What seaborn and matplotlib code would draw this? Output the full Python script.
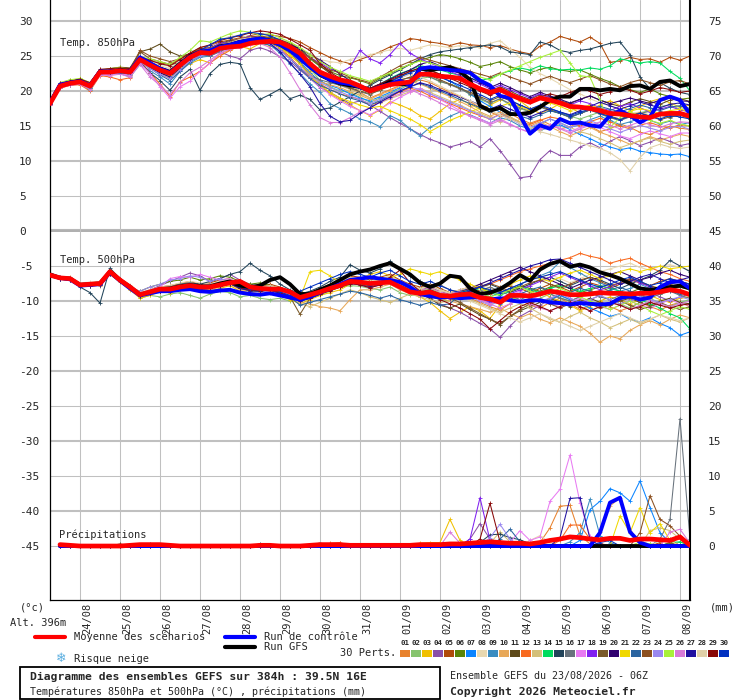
import numpy as np
import matplotlib
matplotlib.use("Agg")
import matplotlib.pyplot as plt
from matplotlib.lines import Line2D
from matplotlib.patches import Rectangle
import matplotlib.transforms as mtransforms
import seaborn as sns

# ---------------- DATA (6-hourly from 23/08 06Z) ----------------
dates = ["24/08", "25/08", "26/08", "27/08", "28/08", "29/08", "30/08", "31/08",
         "01/09", "02/09", "03/09", "04/09", "05/09", "06/09", "07/09", "08/09"]

mean850 = [18.2, 20.7, 21.1, 21.3, 20.7, 22.7, 22.7, 22.9, 22.7, 24.5, 23.7, 23.0, 22.5, 23.7, 24.8, 25.5,
           25.4, 26.1, 26.3, 26.4, 26.8, 27.0, 27.1, 27.0, 26.3, 25.4, 23.9, 22.7, 22.1, 21.6, 21.3, 20.7,
           20.0, 20.5, 20.9, 21.1, 21.3, 22.4, 22.4, 22.1, 22.0, 21.8, 21.0, 20.3, 19.8, 20.2, 19.5, 18.9,
           18.4, 19.0, 18.7, 18.3, 17.8, 17.7, 17.5, 17.2, 16.8, 16.7, 16.5, 16.3, 16.2, 16.7, 16.8, 16.8, 16.4]
ctrl850 = [18.3, 20.9, 21.2, 21.4, 20.8, 22.8, 22.8, 22.9, 22.8,
           24.8, 24.0, 23.2, 22.6, 23.8, 24.9, 25.6, 25.8, 26.3, 26.6, 27.0, 27.3, 27.5, 27.2, 26.6, 25.8,
           24.6, 23.4, 22.4, 21.6, 21.2, 21.0, 20.6, 20.0, 20.6, 21.0, 21.5, 20.8, 23.2, 23.4, 23.2, 23.0,
           22.9, 22.6, 21.5, 20.8, 19.3, 19.0, 16.5, 13.9, 15.1, 14.6, 16.0, 15.4, 15.5, 15.1, 14.9, 16.5,
           17.2, 16.5, 15.5, 16.3, 18.7, 19.2, 18.7, 16.7]
gfs850 = [18.3, 20.8, 21.2, 21.4, 20.7, 22.8, 22.7, 23.0, 22.8,
          24.6, 23.9, 23.2, 22.7, 23.9, 25.0, 25.6, 25.7, 26.4, 26.6, 27.0, 27.2, 27.4, 27.2, 26.6, 25.9,
          24.8, 23.5, 22.3, 21.6, 21.1, 20.8, 20.6, 20.0, 20.6, 21.3, 21.0, 20.9, 23.2, 23.0, 23.2, 23.4,
          22.8, 21.6, 17.9, 17.2, 17.6, 16.7, 16.7, 16.9, 17.7, 18.7, 19.2, 19.2, 20.3, 20.3, 20.1, 20.3,
          20.1, 20.7, 20.8, 20.3, 21.3, 21.5, 20.7, 21.0]

mean500 = [-6.3, -6.7, -6.8, -7.7, -7.6, -7.5, -5.8, -7.0, -8.0, -9.1, -8.7, -8.3, -8.3, -8.0, -7.8, -8.0,
           -8.0, -7.7, -7.4, -7.2, -8.0, -8.2, -8.3, -8.3, -8.7, -9.5, -9.1, -8.7, -8.2, -7.8, -7.2, -7.3,
           -7.5, -7.4, -7.3, -8.0, -8.7, -8.9, -8.7, -9.2, -9.3, -9.1, -9.0, -9.5, -9.7, -10.2, -9.2, -9.2,
           -9.3, -9.0, -8.6, -8.8, -9.1, -9.1, -9.0, -8.8, -8.9, -8.9, -9.0, -8.9, -8.9, -8.7, -8.4, -8.6, -9.1]
ctrl500 = [-6.3, -6.7, -6.9, -7.8, -7.7, -7.6, -5.9, -7.1, -8.2,
           -9.2, -8.9, -8.6, -8.6, -8.4, -8.3, -8.6, -8.7, -8.5, -8.4, -8.8, -9.0, -9.1, -8.9, -9.2, -9.5,
           -9.8, -9.4, -8.8, -8.2, -7.6, -7.0, -6.8, -6.6, -6.8, -7.0, -7.3, -8.0, -9.0, -9.3, -9.5, -9.4,
           -9.6, -9.5, -9.4, -9.8, -9.6, -9.9, -10.1, -9.9, -9.9, -10.2, -10.3, -10.5, -10.3, -10.4, -10.5,
           -10.4, -9.6, -9.3, -9.8, -9.5, -8.0, -7.3, -7.2, -8.2]
gfs500 = [-6.2, -6.7, -6.8, -7.7, -7.6, -7.5, -5.8, -7.0, -8.0,
          -9.1, -8.7, -8.3, -8.2, -7.9, -7.7, -7.9, -7.9, -7.5, -7.2, -7.8, -8.0, -7.8, -7.0, -6.6, -7.6,
          -9.0, -9.0, -8.4, -7.8, -7.0, -6.2, -5.8, -5.5, -5.0, -4.6, -5.4, -6.2, -7.4, -8.0, -7.5, -6.4,
          -6.6, -8.2, -9.0, -8.8, -8.3, -7.4, -6.3, -7.1, -5.5, -4.7, -4.3, -5.1, -4.8, -5.2, -5.9, -6.3,
          -6.8, -7.5, -8.2, -8.4, -8.2, -8.0, -7.8, -8.2]

# precipitation (mm / 6h), from 23/08 12Z
mean_rr = [0.2, 0.1, 0, 0, 0, 0, 0, 0.1, 0.2, 0.2, 0.2, 0.1, 0, 0, 0, 0,
           0, 0, 0, 0, 0.1, 0.1, 0, 0, 0, 0.1, 0.2, 0.2, 0.2, 0.1, 0.1, 0.1,
           0.1, 0.1, 0.1, 0.1, 0.2, 0.2, 0.2, 0.3, 0.3, 0.4, 0.5, 0.6, 0.5, 0.4, 0.4, 0.3,
           0.5, 0.8, 1.0, 1.3, 1.2, 1.0, 0.9, 1.1, 1.1, 0.8, 1.0, 1.0, 0.9, 0.8, 1.3, 0.1]
ctrl_rr = [0, 0, 0, 0, 0, 0, 0, 0, 0, 0, 0, 0, 0, 0, 0, 0,
           0, 0, 0, 0, 0, 0, 0, 0, 0, 0, 0, 0, 0, 0, 0, 0,
           0, 0, 0, 0, 0, 0, 0, 0, 0, 0, 0, 0, 0, 0, 0, 0,
           0, 0, 0, 0, 0, 0, 1.9, 6.2, 6.9, 2.0, 0.5, 0, 0, 0, 0, 0]
gfs_rr = [0, 0, 0, 0, 0, 0, 0, 0, 0, 0, 0, 0, 0, 0, 0, 0,
          0, 0, 0, 0, 0, 0, 0, 0, 0, 0, 0.2, 0, 0, 0, 0, 0,
          0, 0, 0, 0, 0, 0, 0, 0, 0, 0, 0, 0, 0, 0, 0, 0,
          0, 0, 0, 0, 0, 0, 0, 0, 0, 0, 0, 0, 0, 0, 0, 0]

# ---- 850 hPa perturbations ----
t850_01 = [18.0, 20.5, 21.4, 21.0, 20.3, 22.4, 22.9, 22.6, 22.1, 24.0, 23.2, 22.4, 21.8, 23.0, 24.3, 25.0, 25.2, 25.8, 26.4, 26.9, 27.3, 27.4, 27.6, 27.2, 26.8, 25.9, 24.1, 22.3, 21.5, 21.0, 20.4, 19.8, 19.0, 19.6, 20.2, 20.8, 21.0, 21.6, 21.2, 20.5, 19.8, 19.2, 18.5, 17.6, 17.0, 16.4, 16.8, 16.0, 15.4, 15.9, 15.2, 14.6, 14.9, 15.5, 15.0, 14.2, 14.6, 15.3, 14.8, 14.1, 13.8, 14.4, 15.0, 14.7, 14.5]
t850_02 = [18.4, 21.0, 21.6, 21.5, 20.4, 22.9, 23.0, 22.8, 22.9, 24.9, 24.0, 23.4, 22.9, 24.0, 25.1, 25.9, 25.6, 26.5, 26.6, 26.9, 27.3, 27.0, 27.2, 27.1, 26.2, 25.0, 23.2, 21.5, 20.6, 20.0, 19.8, 19.1, 18.4, 19.0, 19.6, 20.3, 20.9, 21.8, 22.0, 21.3, 21.0, 20.4, 19.5, 18.8, 18.2, 18.9, 18.0, 17.5, 17.0, 17.8, 17.3, 16.8, 16.4, 16.0, 16.5, 17.0, 16.2, 15.8, 16.4, 16.9, 17.2, 17.8, 18.0, 17.4, 17.5]
t850_03 = [18.3, 20.8, 21.2, 21.0, 20.9, 22.5, 22.4, 23.2, 22.6, 24.6, 23.5, 22.6, 21.9, 23.2, 23.9, 24.5, 24.0, 25.3, 25.9, 26.4, 26.0, 26.8, 26.5, 25.8, 25.0, 24.0, 22.8, 21.0, 19.6, 18.8, 18.0, 17.2, 16.5, 17.3, 18.5, 18.0, 17.4, 16.5, 16.0, 17.1, 18.2, 18.8, 18.1, 17.4, 18.0, 18.7, 19.3, 18.6, 17.5, 16.8, 17.4, 18.2, 17.6, 16.9, 17.3, 18.0, 18.6, 17.9, 17.2, 17.8, 18.5, 18.9, 18.3, 17.7, 18.0]
t850_04 = [18.1, 20.6, 20.9, 21.2, 20.6, 22.6, 22.8, 22.7, 22.4, 24.3, 23.6, 22.8, 22.2, 23.4, 24.5, 25.3, 25.0, 25.6, 25.0, 24.6, 25.8, 26.2, 25.7, 24.9, 24.2, 23.0, 21.8, 20.5, 19.8, 19.0, 18.2, 18.6, 18.0, 17.1, 16.2, 15.4, 14.6, 13.8, 13.1, 12.6, 12.0, 12.4, 12.8, 12.0, 13.2, 11.5, 9.6, 7.6, 7.8, 10.2, 11.5, 10.8, 10.8, 12.0, 12.6, 11.9, 12.8, 13.5, 12.9, 12.2, 12.7, 13.3, 12.8, 12.2, 12.5]
t850_05 = [18.5, 21.0, 21.5, 21.7, 21.1, 23.0, 23.1, 23.2, 23.0, 24.8, 24.3, 24.0, 23.8, 24.6, 25.4, 26.2, 26.5, 27.0, 27.3, 27.6, 27.9, 28.2, 28.0, 27.8, 27.5, 27.0, 26.2, 25.5, 24.8, 24.3, 23.9, 24.5, 25.0, 25.6, 26.3, 26.8, 27.5, 27.3, 27.0, 26.8, 26.5, 26.9, 26.6, 26.5, 26.2, 26.5, 26.0, 25.6, 25.3, 26.4, 27.0, 27.8, 27.4, 27.0, 27.7, 26.8, 24.1, 24.3, 24.8, 24.5, 24.6, 24.1, 24.8, 24.4, 25.0]
t850_06 = [18.2, 20.9, 21.3, 21.4, 20.8, 22.8, 22.6, 23.0, 22.8, 24.4, 23.8, 23.2, 22.7, 23.9, 25.0, 25.6, 25.8, 26.3, 26.6, 27.0, 27.4, 27.5, 27.3, 27.0, 26.6, 25.9, 24.6, 23.5, 22.8, 22.2, 21.9, 21.5, 21.0, 21.8, 22.5, 23.2, 23.8, 24.4, 24.8, 25.2, 25.0, 24.6, 24.1, 23.5, 23.8, 24.2, 23.5, 23.0, 22.6, 23.1, 23.4, 23.0, 22.8, 23.0, 22.4, 21.8, 21.3, 20.6, 20.2, 19.8, 20.3, 19.6, 19.2, 18.8, 19.0]
t850_07 = [18.0, 20.6, 21.0, 21.1, 20.5, 22.5, 22.5, 22.8, 22.5, 24.3, 23.4, 22.7, 22.1, 23.5, 24.6, 25.3, 25.5, 26.2, 26.5, 27.0, 27.2, 27.3, 27.1, 26.5, 25.8, 24.2, 22.6, 21.4, 20.8, 20.3, 19.6, 19.0, 18.6, 19.2, 19.8, 20.5, 21.2, 21.9, 22.5, 22.0, 21.4, 20.5, 19.6, 18.6, 17.8, 17.0, 16.2, 15.5, 15.0, 14.4, 14.8, 15.2, 14.5, 13.8, 13.2, 12.5, 12.0, 11.6, 11.9, 11.4, 11.2, 11.0, 10.9, 11.0, 10.6]
t850_08 = [18.6, 21.2, 21.5, 21.8, 21.2, 23.1, 23.0, 23.3, 23.2, 24.8, 24.5, 23.8, 23.5, 24.4, 25.3, 26.0, 26.4, 27.3, 27.8, 28.0, 27.6, 27.8, 27.9, 27.4, 26.9, 26.2, 25.3, 24.5, 24.2, 24.0, 24.5, 24.8, 25.2, 25.5, 25.9, 26.1, 25.8, 26.2, 26.6, 26.4, 26.2, 26.5, 26.3, 26.2, 26.8, 27.2, 26.0, 24.8, 23.4, 22.5, 21.8, 21.0, 20.2, 19.6, 18.9, 18.3, 17.9, 17.2, 16.8, 17.0, 16.6, 16.2, 16.5, 16.3, 16.0]
t850_09 = [18.1, 20.5, 20.9, 21.0, 20.2, 22.3, 22.4, 22.5, 22.0, 23.8, 22.9, 22.0, 21.0, 22.8, 24.0, 24.8, 25.0, 25.9, 26.2, 26.5, 26.9, 27.0, 26.6, 25.4, 23.9, 22.5, 21.0, 19.8, 18.2, 17.5, 16.8, 16.0, 15.6, 14.9, 16.5, 15.8, 14.6, 13.6, 14.8, 15.6, 16.4, 17.0, 16.6, 16.0, 15.4, 16.2, 15.8, 15.0, 14.6, 15.3, 16.0, 15.5, 14.8, 15.2, 15.9, 16.4, 15.8, 15.2, 15.6, 16.1, 15.8, 15.3, 15.7, 15.2, 15.5]
t850_10 = [18.2, 20.7, 21.4, 21.3, 20.6, 22.6, 22.8, 23.0, 22.7, 24.6, 23.9, 23.3, 22.6, 23.8, 24.9, 25.7, 25.9, 26.6, 26.9, 27.2, 27.6, 27.8, 27.4, 26.7, 25.6, 24.0, 22.4, 21.3, 20.9, 20.5, 19.9, 19.4, 18.8, 19.5, 20.0, 20.7, 21.4, 21.0, 20.4, 19.8, 19.2, 18.5, 17.8, 17.0, 16.4, 17.0, 16.3, 15.6, 15.0, 15.6, 14.9, 14.2, 13.6, 14.2, 14.8, 14.1, 13.6, 13.0, 12.4, 12.9, 13.5, 13.0, 13.4, 13.8, 13.5]
t850_11 = [18.4, 20.8, 21.3, 21.6, 21.0, 22.9, 23.2, 23.4, 23.3, 25.6, 26.0, 26.7, 25.6, 25.0, 25.3, 25.8, 26.0, 26.8, 27.2, 27.4, 27.8, 27.6, 27.7, 27.3, 26.8, 26.0, 24.8, 23.6, 22.5, 21.4, 20.8, 20.2, 19.8, 20.6, 21.4, 22.1, 22.8, 23.3, 23.0, 22.4, 22.0, 21.6, 21.0, 20.4, 20.0, 20.6, 20.0, 19.3, 18.8, 19.5, 19.1, 18.6, 18.2, 18.8, 19.3, 18.7, 18.2, 17.8, 18.4, 18.9, 18.5, 18.1, 18.7, 18.9, 18.5]
t850_12 = [18.0, 20.4, 20.8, 20.9, 20.0, 22.2, 22.0, 21.6, 21.9, 24.2, 22.6, 21.0, 19.2, 21.3, 22.0, 22.8, 24.0, 25.0, 25.8, 26.5, 27.0, 27.4, 27.0, 26.2, 24.8, 23.4, 22.0, 21.0, 20.2, 19.6, 19.2, 18.8, 18.0, 18.4, 19.1, 19.9, 20.4, 20.0, 19.3, 18.8, 18.2, 17.6, 17.0, 16.5, 16.0, 16.7, 16.1, 15.6, 15.2, 15.8, 16.3, 16.0, 15.4, 15.0, 15.6, 16.1, 15.6, 15.0, 14.6, 15.1, 15.5, 15.0, 14.7, 15.2, 15.0]
t850_13 = [18.3, 20.9, 21.6, 21.4, 20.8, 22.7, 22.6, 22.9, 22.8, 24.2, 23.6, 23.0, 22.6, 23.8, 24.8, 25.4, 25.2, 26.0, 26.2, 26.6, 26.9, 27.2, 27.0, 26.4, 25.7, 24.8, 23.6, 22.3, 21.4, 20.8, 20.2, 19.6, 19.0, 18.3, 18.9, 19.4, 19.9, 20.4, 19.8, 19.2, 18.6, 18.0, 17.3, 16.8, 16.2, 15.6, 16.2, 15.6, 15.0, 14.4, 14.9, 15.4, 14.8, 14.2, 13.8, 13.2, 12.6, 11.9, 12.4, 12.9, 13.3, 12.8, 12.4, 12.8, 13.0]
t850_14 = [18.2, 20.6, 21.0, 21.2, 20.1, 22.8, 22.5, 22.7, 22.6, 24.7, 23.8, 23.1, 22.7, 23.6, 24.6, 25.4, 25.8, 26.4, 26.7, 27.1, 27.5, 27.4, 27.6, 26.8, 26.0, 25.0, 23.8, 22.6, 21.9, 21.4, 21.1, 20.6, 20.3, 21.0, 21.8, 22.5, 23.0, 23.6, 23.4, 23.0, 22.6, 22.2, 21.8, 21.5, 21.8, 22.4, 22.9, 23.3, 23.0, 23.6, 23.2, 23.0, 23.1, 23.0, 23.3, 23.1, 23.6, 24.6, 24.3, 24.0, 24.2, 24.0, 22.8, 21.8, 20.0]
t850_15 = [18.1, 20.8, 21.0, 21.2, 20.6, 22.6, 22.6, 22.7, 22.3, 24.1, 22.6, 21.5, 20.1, 22.0, 23.1, 20.1, 22.5, 23.8, 24.1, 23.9, 20.5, 18.8, 19.5, 20.3, 18.9, 19.4, 18.8, 17.3, 17.6, 18.4, 19.2, 20.0, 20.8, 21.6, 22.3, 23.0, 23.8, 24.6, 25.2, 25.6, 25.8, 26.0, 26.2, 26.4, 26.6, 26.3, 25.6, 25.4, 25.2, 27.0, 26.6, 25.8, 25.5, 25.8, 26.0, 26.4, 26.8, 27.0, 25.2, 22.0, 20.3, 21.2, 20.4, 19.8, 19.5]
t850_16 = [18.3, 20.7, 21.2, 21.3, 20.9, 22.7, 22.8, 22.8, 22.6, 24.4, 23.4, 22.8, 22.2, 23.3, 24.5, 25.2, 25.0, 25.7, 26.1, 26.6, 26.8, 27.0, 26.9, 26.2, 25.4, 24.0, 22.2, 21.6, 21.2, 20.8, 20.4, 19.9, 19.5, 20.2, 20.9, 21.6, 21.9, 22.3, 22.0, 21.4, 20.9, 20.3, 19.6, 19.0, 18.3, 18.9, 18.2, 17.6, 17.1, 17.7, 17.2, 16.8, 16.2, 16.8, 17.3, 16.7, 16.2, 15.8, 16.3, 16.8, 17.1, 16.6, 16.2, 16.7, 16.5]
t850_17 = [18.0, 20.6, 21.1, 21.0, 20.3, 22.3, 22.4, 22.5, 22.2, 24.0, 22.5, 20.6, 19.0, 20.6, 21.4, 22.8, 24.0, 25.4, 26.0, 26.4, 26.8, 27.2, 26.9, 26.0, 24.6, 23.2, 21.8, 20.6, 19.5, 18.6, 17.8, 17.2, 16.6, 17.4, 18.3, 19.1, 19.8, 20.4, 19.6, 18.8, 18.0, 17.2, 16.5, 16.0, 15.4, 16.0, 15.3, 14.6, 14.0, 14.6, 15.2, 14.7, 14.2, 14.8, 15.3, 14.8, 14.2, 13.6, 13.2, 13.8, 14.3, 13.9, 13.5, 14.0, 14.0]
t850_18 = [18.4, 21.0, 21.3, 21.6, 20.9, 22.9, 22.9, 23.1, 22.9, 24.6, 24.0, 23.4, 23.0, 24.2, 25.2, 26.0, 26.2, 26.8, 27.0, 27.4, 27.8, 27.6, 27.2, 26.8, 26.3, 25.6, 24.8, 24.0, 23.2, 22.6, 23.4, 25.8, 24.6, 24.0, 25.2, 26.8, 25.4, 24.6, 24.0, 23.4, 22.8, 22.2, 21.6, 21.0, 20.3, 20.8, 20.2, 19.6, 19.0, 19.6, 19.0, 18.5, 18.0, 18.6, 18.2, 17.6, 17.2, 17.8, 18.2, 17.6, 17.0, 17.4, 17.8, 17.3, 17.0]
t850_19 = [18.2, 20.8, 21.1, 21.3, 20.8, 22.6, 22.8, 22.9, 22.8, 25.6, 24.6, 24.2, 23.8, 24.0, 25.0, 25.9, 25.6, 26.4, 26.7, 27.2, 27.4, 27.1, 26.9, 26.2, 25.6, 24.6, 23.5, 22.4, 21.6, 21.0, 20.5, 20.0, 19.6, 20.1, 20.8, 21.5, 22.0, 22.6, 22.2, 21.6, 21.0, 20.4, 19.8, 19.2, 18.6, 19.2, 18.6, 18.0, 17.4, 17.9, 17.3, 16.8, 16.3, 16.8, 17.3, 16.9, 16.4, 16.0, 16.5, 16.9, 16.4, 15.9, 16.3, 16.6, 16.0]
t850_20 = [18.2, 20.7, 21.0, 21.4, 20.7, 22.7, 22.6, 22.8, 22.7, 24.2, 23.4, 22.6, 22.0, 23.3, 24.8, 25.5, 25.8, 26.2, 26.8, 27.3, 27.6, 27.3, 27.5, 27.0, 26.6, 26.0, 25.2, 24.4, 23.5, 22.4, 21.5, 20.8, 20.4, 21.0, 21.7, 22.4, 23.0, 23.8, 24.2, 23.6, 23.0, 22.5, 21.9, 21.2, 20.5, 21.1, 20.5, 19.8, 19.2, 19.8, 19.3, 18.8, 18.3, 18.8, 19.3, 18.7, 18.2, 18.6, 19.0, 18.6, 18.2, 18.7, 19.0, 18.6, 18.5]
t850_21 = [18.3, 20.9, 21.3, 21.2, 20.6, 22.8, 22.7, 22.9, 22.5, 24.5, 23.5, 22.8, 22.3, 23.4, 24.7, 25.2, 25.6, 26.2, 26.5, 26.9, 27.2, 27.3, 27.0, 26.2, 25.2, 23.8, 22.2, 20.8, 19.8, 19.0, 18.5, 18.0, 17.6, 17.8, 17.2, 16.6, 16.0, 15.2, 14.2, 15.0, 15.8, 16.4, 17.0, 17.6, 17.2, 17.8, 18.3, 17.8, 17.2, 17.8, 18.3, 17.8, 17.2, 17.6, 18.0, 17.5, 17.0, 16.6, 17.1, 17.5, 17.2, 16.8, 17.2, 17.4, 17.0]
t850_22 = [18.1, 20.6, 21.0, 21.1, 20.5, 22.5, 22.6, 22.6, 22.5, 24.3, 23.3, 22.3, 21.5, 22.8, 24.2, 25.0, 25.2, 26.0, 26.4, 26.8, 27.0, 26.8, 26.6, 25.8, 24.6, 23.2, 21.8, 20.8, 20.2, 19.6, 19.0, 18.6, 18.0, 18.6, 19.4, 20.0, 20.6, 21.1, 20.6, 20.0, 19.4, 18.8, 18.2, 17.6, 17.0, 17.6, 17.0, 16.4, 16.0, 16.6, 17.2, 16.8, 16.3, 16.8, 17.3, 17.8, 17.4, 17.0, 17.5, 18.0, 17.6, 17.2, 17.7, 17.9, 17.5]
t850_23 = [18.4, 20.9, 21.3, 21.5, 21.0, 22.9, 23.0, 23.0, 23.0, 25.8, 25.0, 24.6, 24.2, 24.6, 25.4, 26.0, 26.2, 26.6, 27.0, 27.4, 27.7, 27.9, 27.6, 27.0, 26.4, 25.6, 24.8, 23.8, 23.0, 22.6, 22.0, 21.6, 21.2, 22.0, 22.8, 23.6, 24.2, 24.8, 24.4, 24.0, 23.6, 23.2, 22.8, 22.4, 22.0, 22.6, 22.0, 21.5, 21.0, 21.6, 22.1, 21.6, 21.2, 21.7, 22.2, 21.6, 21.0, 20.6, 21.2, 21.6, 21.2, 20.8, 21.3, 21.5, 21.0]
t850_24 = [18.2, 20.6, 21.0, 21.2, 20.6, 22.6, 22.6, 22.8, 22.5, 24.2, 23.2, 22.4, 21.8, 23.0, 24.3, 25.0, 25.3, 26.0, 26.2, 26.6, 26.9, 27.0, 26.7, 25.8, 24.6, 23.4, 22.2, 21.2, 20.5, 19.9, 19.3, 18.8, 18.2, 18.8, 19.5, 20.1, 20.6, 20.2, 19.6, 19.0, 18.4, 17.8, 17.2, 16.6, 16.0, 16.6, 16.0, 15.3, 14.8, 15.4, 16.0, 15.4, 14.8, 15.3, 15.8, 15.2, 14.6, 14.1, 14.6, 15.1, 14.7, 14.3, 14.8, 15.0, 14.5]
t850_25 = [18.5, 21.2, 21.6, 21.8, 21.2, 23.0, 23.2, 23.4, 23.1, 24.9, 24.6, 24.2, 23.8, 24.8, 25.8, 27.2, 27.0, 27.6, 28.2, 28.6, 28.4, 28.0, 28.2, 27.6, 27.0, 26.2, 25.2, 24.2, 23.4, 22.8, 22.2, 21.8, 21.4, 22.0, 22.6, 23.2, 23.8, 24.3, 24.0, 23.6, 23.2, 22.8, 22.4, 22.0, 21.6, 22.4, 23.0, 23.6, 24.2, 24.8, 25.3, 25.8, 24.0, 22.2, 22.0, 18.7, 14.8, 16.2, 17.0, 16.4, 15.8, 15.4, 15.8, 15.3, 15.0]
t850_26 = [18.0, 20.5, 20.8, 21.0, 20.2, 22.3, 22.2, 22.4, 22.0, 23.8, 22.0, 20.8, 19.5, 21.2, 22.6, 23.4, 24.4, 25.4, 26.0, 26.2, 26.6, 26.8, 26.2, 24.8, 22.6, 20.2, 18.0, 16.2, 15.5, 15.5, 16.2, 17.0, 17.6, 18.4, 19.0, 19.6, 20.2, 19.6, 19.0, 18.3, 17.6, 17.0, 16.4, 15.8, 15.2, 15.8, 15.2, 14.6, 14.1, 14.6, 15.1, 14.6, 14.0, 14.6, 15.1, 15.6, 15.1, 14.6, 15.1, 15.6, 15.2, 14.8, 15.3, 15.6, 15.5]
t850_27 = [18.3, 20.8, 21.2, 21.4, 20.8, 22.8, 22.7, 22.9, 22.7, 24.5, 23.7, 23.0, 22.4, 23.6, 24.6, 25.4, 25.6, 26.3, 26.5, 27.0, 27.3, 27.1, 26.8, 25.6, 24.0, 22.4, 20.6, 18.2, 16.4, 15.6, 15.8, 16.8, 17.6, 18.4, 19.2, 20.0, 20.6, 21.2, 20.8, 20.2, 19.6, 19.1, 18.6, 18.0, 17.4, 18.0, 17.4, 16.8, 16.3, 16.9, 17.5, 17.0, 16.6, 17.2, 17.8, 18.4, 17.9, 17.4, 17.9, 18.4, 18.0, 17.6, 18.1, 18.3, 18.0]
t850_28 = [18.4, 21.1, 21.4, 21.6, 21.0, 22.8, 23.0, 23.1, 22.9, 24.8, 24.2, 23.6, 23.2, 24.2, 25.1, 25.8, 26.0, 26.6, 26.9, 27.4, 27.6, 27.4, 27.3, 26.8, 26.0, 25.0, 23.9, 22.8, 21.9, 21.3, 20.8, 20.2, 19.8, 20.5, 21.2, 21.8, 22.4, 22.0, 21.4, 20.7, 20.0, 19.3, 18.6, 17.9, 17.2, 16.6, 16.0, 15.4, 14.8, 14.2, 13.8, 13.4, 13.0, 12.6, 12.2, 11.8, 11.2, 10.2, 8.6, 10.5, 11.9, 12.4, 12.0, 11.8, 12.0]
t850_29 = [18.5, 21.1, 21.4, 21.7, 21.2, 23.1, 23.2, 23.3, 23.2, 24.9, 24.4, 23.9, 23.6, 24.5, 25.4, 26.2, 26.6, 27.2, 27.6, 27.9, 28.3, 28.6, 28.4, 28.1, 27.4, 26.6, 25.8, 23.9, 22.7, 21.8, 21.2, 20.8, 20.4, 21.0, 21.6, 22.2, 22.8, 23.3, 22.9, 22.4, 21.8, 21.2, 20.6, 20.0, 19.4, 20.0, 19.6, 19.0, 18.5, 19.1, 19.6, 19.2, 19.8, 20.3, 20.0, 19.5, 19.9, 20.4, 20.1, 19.6, 20.0, 20.5, 20.2, 19.8, 20.0]
t850_30 = [18.2, 20.8, 21.2, 21.3, 20.7, 22.7, 22.7, 22.8, 22.7, 24.9, 23.9, 23.1, 22.5, 23.7, 25.0, 25.8, 26.6, 27.4, 27.6, 28.0, 28.4, 28.2, 27.9, 27.3, 26.5, 25.4, 24.0, 22.8, 22.0, 21.4, 20.9, 20.4, 20.0, 20.6, 21.3, 22.0, 22.6, 23.1, 22.6, 22.0, 21.4, 20.8, 20.2, 19.5, 18.8, 19.4, 18.7, 18.0, 17.4, 18.0, 17.5, 17.0, 16.5, 17.0, 17.4, 16.8, 16.3, 15.9, 16.4, 16.8, 16.4, 16.0, 16.5, 16.3, 16.0]

# ---- 500 hPa perturbations ----
t500_01 = [-6.2, -6.8, -6.6, -7.9, -7.4, -7.8, -6.0, -7.2, -8.3, -9.3, -8.9, -8.5, -8.0, -7.6, -7.9, -8.2, -7.8, -7.4, -7.0, -7.4, -8.2, -8.5, -8.0, -8.6, -9.0, -9.8, -9.4, -8.8, -8.0, -7.6, -7.0, -7.5, -7.8, -7.2, -6.8, -7.6, -8.4, -8.8, -8.2, -8.9, -9.4, -9.0, -9.6, -10.2, -10.8, -11.3, -10.4, -9.8, -10.6, -11.0, -10.2, -9.6, -10.4, -11.2, -10.6, -10.0, -10.8, -11.4, -10.9, -10.2, -10.8, -11.3, -10.6, -10.2, -10.8]
t500_02 = [-6.4, -6.6, -6.9, -7.5, -7.8, -7.3, -5.6, -6.8, -7.8, -9.6, -9.2, -9.4, -9.0, -8.8, -9.2, -9.6, -9.0, -8.6, -8.8, -9.4, -9.2, -9.6, -9.8, -9.6, -10.0, -10.0, -9.6, -9.2, -8.6, -8.0, -7.8, -7.9, -8.2, -8.4, -8.0, -8.8, -9.2, -9.0, -9.4, -9.8, -10.0, -9.6, -9.2, -9.8, -10.4, -10.0, -9.5, -9.8, -10.2, -9.6, -9.0, -9.5, -10.0, -9.4, -8.8, -9.3, -9.8, -10.4, -11.0, -10.2, -9.6, -10.3, -10.8, -10.2, -9.8]
t500_03 = [-6.3, -6.8, -7.0, -7.8, -7.7, -7.6, -6.2, -7.3, -8.4, -9.6, -9.2, -8.6, -8.8, -8.3, -8.0, -8.4, -8.6, -8.2, -7.8, -8.6, -8.8, -9.0, -8.7, -9.2, -9.8, -10.4, -9.8, -9.2, -8.8, -8.4, -7.6, -6.8, -6.2, -5.8, -6.4, -7.2, -8.6, -9.4, -10.2, -11.4, -12.5, -11.6, -10.8, -11.4, -12.5, -10.6, -9.4, -10.2, -9.6, -8.8, -9.4, -10.0, -10.6, -11.4, -10.8, -10.0, -9.4, -9.8, -10.4, -9.8, -9.2, -9.8, -10.2, -9.6, -9.4]
t500_04 = [-6.5, -6.9, -7.0, -7.6, -7.9, -7.7, -5.9, -7.1, -8.2, -9.0, -8.4, -7.8, -7.2, -6.6, -6.0, -6.4, -7.2, -6.8, -6.2, -7.0, -7.6, -8.0, -7.8, -8.4, -9.0, -9.6, -9.0, -8.6, -8.2, -7.8, -7.4, -7.6, -8.0, -7.6, -7.2, -8.0, -8.6, -9.0, -9.6, -10.4, -11.0, -11.6, -12.4, -13.2, -14.0, -15.2, -13.6, -12.2, -11.4, -10.6, -9.8, -9.2, -9.8, -10.4, -9.8, -9.2, -8.6, -9.2, -9.8, -9.4, -8.8, -9.4, -10.0, -9.4, -9.0]
t500_05 = [-6.1, -6.6, -6.7, -7.6, -7.5, -7.3, -5.7, -6.9, -7.9, -8.8, -8.5, -8.0, -7.8, -7.5, -7.2, -7.6, -7.4, -7.0, -6.8, -7.6, -7.8, -8.0, -7.6, -8.0, -8.6, -9.2, -8.8, -8.2, -7.6, -7.0, -6.4, -6.6, -7.0, -6.6, -6.2, -7.0, -7.6, -8.0, -7.6, -8.2, -8.8, -8.4, -8.0, -8.6, -9.0, -8.4, -7.8, -8.2, -8.8, -8.2, -7.6, -8.0, -8.6, -8.0, -7.4, -7.8, -8.2, -7.6, -7.0, -7.4, -7.8, -7.2, -6.8, -7.2, -7.6]
t500_06 = [-6.4, -6.7, -6.9, -7.7, -7.8, -7.6, -6.0, -7.1, -8.1, -8.6, -8.0, -7.6, -7.2, -7.0, -6.6, -7.0, -6.8, -6.4, -6.6, -7.2, -7.6, -7.4, -7.8, -8.2, -8.8, -9.8, -9.4, -8.9, -8.4, -8.0, -7.6, -7.4, -7.6, -7.2, -7.0, -7.6, -8.2, -8.6, -8.2, -8.8, -9.2, -8.8, -8.4, -8.0, -8.6, -9.0, -8.4, -7.8, -8.2, -8.6, -8.0, -7.6, -8.2, -8.8, -8.4, -8.0, -8.6, -9.2, -8.8, -8.2, -8.6, -9.0, -8.4, -8.0, -8.4]
t500_07 = [-6.3, -6.7, -6.8, -7.8, -7.6, -7.4, -5.9, -7.0, -8.1, -9.1, -8.8, -8.4, -8.2, -8.0, -7.9, -8.0, -7.9, -7.6, -7.3, -8.0, -8.3, -8.4, -8.2, -8.8, -9.4, -10.0, -9.4, -8.8, -8.2, -7.8, -7.2, -7.4, -7.8, -7.4, -7.0, -7.8, -8.6, -9.0, -8.6, -9.2, -9.6, -9.2, -8.8, -9.4, -10.0, -10.4, -9.6, -9.0, -9.6, -10.2, -9.8, -9.2, -9.8, -10.4, -11.0, -11.6, -12.2, -11.8, -12.6, -13.0, -12.4, -13.2, -13.8, -14.9, -14.4]
t500_08 = [-6.0, -6.5, -6.6, -7.4, -7.3, -7.2, -5.6, -6.8, -7.7, -8.8, -8.4, -8.0, -7.8, -7.4, -7.2, -7.4, -7.6, -7.2, -6.8, -7.4, -7.8, -8.0, -7.8, -8.2, -8.8, -9.4, -9.0, -8.4, -7.8, -7.2, -6.6, -6.8, -7.2, -6.8, -6.4, -7.2, -7.8, -8.2, -7.8, -8.4, -8.8, -8.4, -8.0, -7.6, -8.2, -8.8, -8.2, -7.6, -7.0, -6.6, -6.2, -6.8, -7.4, -6.8, -6.2, -5.8, -5.4, -5.0, -4.6, -5.2, -5.6, -5.0, -4.8, -5.2, -5.6]
t500_09 = [-6.2, -6.6, -6.7, -7.7, -7.5, -7.4, -5.8, -6.9, -7.9, -9.0, -8.6, -8.2, -8.3, -7.9, -7.6, -7.9, -7.8, -7.4, -7.1, -7.8, -8.1, -8.3, -8.0, -8.5, -9.0, -9.6, -9.2, -8.6, -8.0, -7.4, -6.8, -7.0, -7.4, -7.0, -6.6, -7.4, -8.0, -8.4, -8.0, -8.6, -9.0, -8.6, -8.2, -8.8, -9.4, -8.8, -8.2, -7.6, -7.0, -6.4, -5.8, -4.4, -5.2, -6.0, -6.8, -7.4, -8.0, -8.6, -8.2, -7.6, -8.2, -8.8, -8.4, -7.8, -8.2]
t500_10 = [-6.5, -6.8, -7.0, -7.9, -7.8, -7.7, -6.1, -7.2, -8.2, -9.3, -8.9, -8.7, -8.5, -8.2, -8.0, -8.2, -8.4, -8.0, -7.6, -8.4, -8.6, -8.7, -8.5, -9.0, -9.6, -10.2, -10.4, -10.8, -11.0, -11.4, -9.8, -8.4, -8.4, -8.0, -7.6, -8.4, -9.0, -9.4, -9.0, -9.6, -10.0, -10.4, -10.8, -11.2, -11.6, -11.0, -11.8, -12.4, -11.8, -12.6, -13.1, -12.4, -13.0, -13.6, -14.6, -15.9, -15.0, -15.4, -14.2, -13.4, -12.8, -13.4, -12.6, -12.0, -12.4]
t500_11 = [-6.3, -6.6, -6.8, -7.6, -7.7, -7.4, -5.8, -7.0, -8.0, -9.1, -8.7, -8.4, -8.5, -8.2, -8.0, -8.3, -8.2, -7.8, -7.5, -8.2, -8.5, -8.6, -8.4, -8.9, -9.4, -10.0, -9.6, -9.0, -8.4, -7.8, -7.2, -7.6, -8.0, -7.6, -7.2, -8.0, -8.6, -9.0, -9.6, -10.6, -11.0, -10.4, -11.2, -12.0, -12.6, -13.4, -12.2, -11.4, -10.8, -10.2, -9.6, -10.2, -10.8, -10.2, -9.6, -10.2, -10.6, -10.0, -9.6, -10.2, -10.6, -10.0, -9.6, -10.2, -10.4]
t500_12 = [-6.2, -6.7, -6.9, -7.7, -7.6, -7.5, -5.7, -6.9, -8.0, -9.0, -8.6, -8.3, -8.2, -7.9, -7.7, -8.0, -7.9, -7.5, -7.2, -8.0, -8.2, -8.3, -8.2, -8.6, -9.2, -9.8, -9.4, -8.8, -8.2, -7.6, -7.0, -7.2, -7.6, -7.2, -6.8, -7.6, -8.2, -8.6, -8.2, -8.8, -9.2, -8.8, -8.4, -8.0, -7.6, -7.0, -6.4, -5.8, -5.4, -5.0, -4.6, -4.2, -3.8, -3.2, -3.6, -3.9, -4.6, -4.2, -3.9, -4.6, -5.2, -5.8, -6.2, -6.8, -7.2]
t500_13 = [-6.4, -6.8, -6.9, -7.8, -7.7, -7.6, -6.0, -7.1, -8.1, -9.2, -8.8, -8.5, -8.4, -8.1, -7.9, -8.2, -8.1, -7.7, -7.4, -8.1, -8.4, -8.5, -8.3, -8.8, -9.3, -10.4, -10.8, -10.2, -9.6, -9.0, -8.4, -8.8, -9.4, -9.8, -10.2, -9.6, -9.0, -9.4, -9.8, -10.2, -10.0, -9.4, -9.8, -10.4, -11.0, -11.6, -11.0, -10.4, -11.0, -11.8, -12.6, -13.0, -12.2, -11.6, -12.4, -13.0, -13.8, -13.2, -12.6, -13.2, -12.6, -12.0, -12.6, -13.0, -12.4]
t500_14 = [-6.3, -6.7, -6.8, -7.7, -7.6, -7.5, -5.8, -7.0, -8.0, -9.1, -8.7, -8.4, -8.3, -8.0, -7.8, -8.0, -8.0, -7.7, -7.4, -8.0, -8.3, -8.4, -8.3, -8.7, -9.2, -9.8, -9.4, -8.8, -8.2, -7.8, -7.3, -7.5, -7.8, -7.4, -7.1, -7.8, -8.4, -8.8, -8.4, -9.0, -9.4, -9.0, -8.6, -8.2, -8.8, -9.2, -8.6, -8.0, -8.4, -8.8, -8.2, -7.8, -8.2, -8.6, -8.2, -7.8, -8.2, -8.6, -9.2, -9.8, -10.4, -11.0, -11.8, -12.4, -14.0]
t500_15 = [-6.2, -6.6, -6.8, -8.0, -8.8, -10.3, -5.3, -6.8, -8.0, -9.0, -8.6, -8.2, -8.0, -7.6, -7.4, -7.6, -7.2, -6.8, -6.2, -5.8, -4.6, -5.6, -6.4, -7.6, -8.4, -9.0, -8.6, -8.0, -7.2, -6.6, -4.8, -5.6, -6.0, -5.4, -4.3, -5.4, -6.4, -7.2, -7.8, -8.6, -9.2, -8.8, -8.4, -8.0, -7.6, -8.2, -8.8, -8.2, -7.6, -7.0, -6.6, -7.2, -7.8, -7.2, -6.6, -7.0, -7.6, -8.2, -7.6, -7.0, -6.4, -5.6, -4.2, -5.0, -5.8]
t500_16 = [-6.4, -6.7, -6.8, -7.6, -7.6, -7.5, -5.9, -7.0, -8.1, -9.2, -8.8, -8.4, -8.3, -8.0, -7.8, -8.1, -8.1, -7.7, -7.4, -8.1, -8.3, -8.4, -8.2, -8.8, -9.2, -9.8, -9.4, -8.8, -8.2, -7.6, -7.0, -7.2, -7.6, -7.2, -6.8, -7.6, -8.2, -8.6, -8.2, -7.7, -8.4, -8.8, -9.2, -8.6, -8.0, -8.6, -9.2, -9.8, -9.2, -8.6, -9.0, -9.6, -10.0, -9.4, -8.8, -9.4, -9.8, -9.2, -8.6, -9.2, -9.6, -9.0, -8.6, -9.2, -9.6]
t500_17 = [-6.1, -6.5, -6.7, -7.5, -7.4, -7.3, -5.7, -6.8, -7.8, -8.8, -8.4, -8.0, -6.8, -6.5, -6.6, -6.2, -6.6, -7.0, -6.8, -7.6, -8.0, -8.2, -8.0, -8.4, -9.0, -9.6, -9.2, -8.6, -8.0, -7.4, -6.8, -7.0, -7.4, -7.0, -6.6, -7.4, -8.0, -8.4, -8.0, -8.6, -9.0, -8.6, -9.2, -9.8, -10.4, -9.8, -9.2, -8.6, -9.2, -9.8, -10.4, -10.8, -10.2, -9.6, -10.2, -10.8, -11.2, -10.6, -10.0, -10.6, -11.0, -10.4, -9.8, -10.4, -10.6]
t500_18 = [-6.3, -6.8, -6.9, -7.8, -7.7, -7.6, -5.9, -7.1, -8.1, -9.2, -8.8, -8.5, -8.4, -8.1, -7.9, -8.2, -8.1, -7.7, -7.4, -8.1, -8.4, -8.5, -8.3, -8.8, -9.3, -9.9, -9.5, -9.0, -8.5, -8.0, -7.5, -7.7, -8.1, -7.7, -7.3, -8.1, -8.7, -9.1, -8.7, -9.3, -9.7, -9.4, -9.0, -9.6, -10.2, -9.6, -9.0, -8.4, -7.8, -7.2, -6.6, -6.0, -6.6, -7.2, -7.8, -8.4, -8.0, -7.4, -6.8, -7.4, -8.0, -8.6, -8.2, -7.6, -8.0]
t500_19 = [-6.4, -6.8, -7.0, -7.8, -7.7, -7.6, -6.0, -7.2, -8.2, -9.3, -8.9, -8.5, -8.5, -8.2, -8.0, -8.3, -8.2, -7.8, -7.5, -8.2, -8.5, -8.6, -8.4, -8.9, -9.4, -11.9, -9.6, -9.0, -8.4, -7.8, -7.2, -7.4, -7.8, -7.4, -7.0, -7.8, -8.4, -8.8, -8.4, -9.0, -9.6, -10.2, -11.0, -11.8, -12.6, -13.2, -12.2, -11.2, -10.4, -9.8, -10.4, -11.0, -10.4, -9.8, -10.4, -11.0, -10.6, -10.0, -10.6, -11.2, -10.8, -10.2, -10.8, -11.2, -10.8]
t500_20 = [-6.2, -6.6, -6.7, -7.6, -7.5, -7.4, -5.8, -6.9, -7.9, -9.0, -8.6, -8.3, -8.2, -7.9, -7.7, -7.9, -7.9, -7.5, -7.2, -7.9, -8.2, -8.3, -8.1, -8.6, -9.1, -9.7, -9.3, -8.7, -8.1, -7.5, -6.9, -7.1, -7.5, -7.1, -6.7, -7.5, -8.1, -8.5, -8.1, -8.7, -9.1, -8.7, -8.2, -7.6, -7.0, -6.4, -5.8, -5.2, -5.8, -6.4, -7.0, -7.6, -8.2, -7.6, -7.0, -6.6, -6.2, -5.8, -6.4, -7.0, -6.6, -6.0, -5.6, -6.2, -6.6]
t500_21 = [-6.3, -6.7, -6.8, -7.7, -7.6, -7.5, -5.8, -7.0, -8.0, -9.1, -8.7, -8.4, -8.2, -7.9, -7.7, -8.0, -7.8, -7.4, -7.1, -7.8, -8.1, -8.2, -8.0, -8.5, -9.0, -9.6, -5.8, -5.6, -6.4, -7.4, -6.8, -7.0, -7.4, -7.0, -6.6, -6.2, -5.4, -5.8, -6.2, -5.8, -6.4, -7.0, -7.6, -8.2, -8.8, -8.2, -7.6, -7.0, -6.4, -6.8, -7.2, -6.6, -6.0, -5.6, -6.2, -6.8, -6.4, -5.8, -5.4, -5.8, -5.4, -5.0, -5.4, -5.2, -5.0]
t500_22 = [-6.4, -6.8, -6.9, -7.8, -7.8, -7.7, -6.1, -7.2, -8.2, -9.3, -8.9, -8.6, -8.5, -8.2, -8.0, -8.3, -8.2, -7.8, -7.5, -8.2, -8.5, -8.6, -8.4, -8.9, -9.4, -10.6, -10.2, -9.8, -9.4, -9.0, -8.6, -8.8, -9.2, -9.6, -9.2, -9.8, -10.2, -10.6, -10.2, -10.6, -10.4, -9.0, -8.6, -9.2, -9.8, -10.2, -9.6, -9.0, -8.4, -8.0, -8.6, -9.2, -8.8, -8.2, -8.6, -9.0, -8.4, -8.0, -8.6, -9.0, -8.6, -8.2, -8.6, -9.0, -8.8]
t500_23 = [-6.2, -6.6, -6.8, -7.6, -7.5, -7.4, -5.8, -6.9, -7.9, -9.0, -8.6, -8.3, -8.2, -7.9, -7.7, -8.0, -7.9, -7.5, -7.2, -7.9, -8.2, -8.3, -8.1, -8.6, -9.1, -9.7, -9.3, -8.7, -8.1, -7.5, -6.9, -7.1, -7.5, -7.1, -6.7, -7.5, -8.1, -8.5, -8.1, -8.7, -9.1, -8.7, -8.3, -7.9, -7.5, -8.0, -8.6, -8.0, -7.4, -7.0, -7.6, -8.2, -7.6, -7.0, -6.6, -7.2, -7.8, -7.4, -6.8, -7.2, -7.8, -8.2, -7.6, -7.2, -7.6]
t500_24 = [-6.3, -6.7, -6.9, -7.7, -7.6, -7.6, -5.9, -7.0, -8.1, -8.6, -8.0, -7.6, -7.0, -6.8, -6.4, -6.6, -7.2, -6.8, -7.2, -7.6, -8.0, -8.4, -8.8, -9.0, -9.4, -9.8, -9.4, -8.8, -8.2, -7.6, -7.0, -7.2, -7.6, -7.2, -6.8, -7.6, -8.2, -8.6, -8.2, -8.8, -9.2, -8.8, -9.4, -10.0, -10.6, -10.0, -9.4, -8.8, -9.4, -10.0, -9.6, -9.0, -9.6, -10.2, -9.8, -9.2, -9.8, -10.4, -10.0, -9.4, -9.8, -10.2, -9.8, -9.4, -9.8]
t500_25 = [-6.3, -6.7, -6.8, -7.7, -7.6, -7.5, -5.8, -7.0, -8.0, -9.1, -8.7, -8.4, -8.3, -8.0, -7.8, -8.0, -8.0, -7.6, -7.3, -8.0, -8.3, -8.4, -8.2, -8.7, -9.2, -9.8, -9.4, -8.8, -8.2, -7.6, -7.0, -7.2, -7.6, -7.2, -6.8, -7.6, -8.2, -8.6, -8.2, -8.8, -9.2, -8.8, -8.4, -8.8, -9.4, -9.0, -8.4, -8.0, -8.6, -9.2, -8.8, -8.2, -8.8, -9.4, -10.0, -10.6, -11.2, -10.6, -10.0, -10.6, -11.4, -12.0, -11.4, -10.8, -11.2]
t500_26 = [-6.2, -6.6, -6.8, -7.6, -7.5, -7.5, -5.8, -6.9, -8.0, -9.0, -8.6, -8.3, -8.2, -7.9, -7.7, -7.9, -7.9, -7.5, -7.2, -7.9, -8.2, -8.3, -8.1, -8.6, -9.1, -9.7, -9.3, -8.7, -8.1, -7.5, -6.9, -7.1, -7.5, -7.1, -6.7, -7.5, -8.1, -8.5, -8.1, -8.7, -9.1, -8.7, -9.2, -9.8, -10.4, -11.0, -10.4, -9.8, -10.4, -11.0, -11.4, -10.8, -10.2, -10.8, -11.4, -10.8, -10.2, -10.6, -11.2, -10.6, -10.0, -10.4, -10.8, -10.4, -10.0]
t500_27 = [-6.4, -6.8, -7.0, -7.8, -7.8, -7.7, -6.1, -7.2, -8.2, -9.3, -8.9, -8.6, -8.5, -8.2, -8.0, -8.3, -8.2, -7.8, -7.5, -8.2, -8.5, -8.6, -8.4, -8.9, -9.4, -10.0, -9.6, -9.0, -8.4, -7.8, -7.2, -7.4, -7.8, -7.4, -7.0, -7.8, -8.4, -8.8, -8.4, -9.0, -9.4, -9.0, -8.6, -8.0, -7.4, -6.8, -6.2, -5.6, -5.0, -4.6, -4.1, -4.0, -4.6, -5.2, -5.8, -6.4, -7.0, -7.6, -7.2, -6.6, -6.2, -6.8, -7.4, -7.0, -6.6]
t500_28 = [-6.1, -6.5, -6.7, -7.5, -7.4, -7.3, -5.7, -6.8, -7.8, -8.8, -8.4, -8.1, -8.0, -7.7, -7.5, -7.8, -7.7, -7.3, -7.0, -7.7, -8.0, -8.1, -7.9, -8.4, -8.9, -9.5, -9.1, -8.5, -7.9, -7.3, -6.7, -6.9, -7.3, -6.9, -6.5, -7.3, -7.9, -8.3, -7.9, -8.5, -8.9, -9.4, -10.0, -10.6, -11.2, -11.8, -12.4, -13.0, -12.4, -11.8, -12.4, -13.0, -13.6, -14.2, -13.6, -13.0, -12.4, -11.8, -12.4, -13.0, -12.6, -12.0, -12.4, -12.8, -12.4]
t500_29 = [-6.3, -6.7, -6.9, -7.7, -7.7, -7.6, -5.9, -7.1, -8.1, -9.2, -8.8, -8.5, -8.4, -8.1, -7.9, -8.2, -8.1, -7.7, -7.4, -8.1, -8.4, -8.5, -8.3, -8.8, -9.3, -9.9, -9.5, -9.0, -8.5, -8.0, -7.5, -7.7, -8.1, -7.7, -6.6, -5.6, -7.4, -8.6, -9.2, -9.8, -10.4, -11.0, -11.8, -12.6, -14.0, -12.8, -11.6, -10.8, -10.2, -10.8, -11.4, -10.8, -10.2, -10.8, -11.4, -10.8, -10.2, -10.6, -11.2, -10.8, -10.2, -10.6, -11.0, -10.6, -10.4]
t500_30 = [-6.3, -6.7, -6.8, -7.7, -7.6, -7.5, -5.8, -7.0, -8.0, -9.1, -8.7, -8.4, -8.3, -8.0, -7.8, -8.1, -8.0, -7.6, -7.3, -8.0, -8.3, -8.4, -8.2, -8.7, -9.2, -8.6, -8.0, -7.4, -6.8, -6.2, -5.8, -6.2, -6.6, -6.0, -5.6, -6.4, -7.2, -7.6, -7.2, -7.8, -8.4, -8.8, -8.4, -8.0, -8.4, -8.8, -8.2, -7.6, -7.0, -6.6, -6.2, -5.8, -6.4, -7.0, -7.6, -8.0, -7.6, -7.0, -6.6, -7.2, -7.8, -7.4, -6.8, -7.2, -7.6]

# ---- precipitation perturbations (mm / 6h, from 23/08 12Z) ----
rr_01 = [0,0,0,0,0,0,0,0,0,0,0,0,0,0,0,0, 0,0,0,0,0,0,0,0,0,0,0,0.4,0.5,0,0,0, 0,0,0,0,0,0,0,0,0,0,0,0,0,0,0,0, 0.5,2.6,5.7,5.8,1.5,0.3,0,0,0,0,0,0,0,0,0,0]
rr_02 = [0,0,0,0,0,0,0,0,0,0,0,0,0,0,0,0, 0,0,0,0,0,0,0,0,0,0,0,0,0,0,0,0, 0,0,0,0,0,0,0,0,0,0,0,0,0,0,0,0, 0,0,0,0,0,0,0,0,0,0,0,0,0,0,0.6,0.2]
rr_03 = [0,0,0,0,0,0,0,0,0,0,0,0,0,0,0,0, 0,0,0,0,0,0,0,0,0,0,0,0,0,0,0,0, 0,0,0,0,0.4,0.5,0.5,3.8,0.8,0,0,0,0,0,0,0, 0,0,0,0,0,0,0,0,0,0,0,0,0,0,0,0]
rr_04 = [0,0,0,0,0,0,0,0,0,0,0,0,0,0,0,0, 0,0,0,0,0,0,0,0,0,0,0,0,0,0,0,0, 0,0,0,0,0,0,0,0,0,1.0,3.2,1.0,0.5,0,0,0, 0,0,0,0,0,0,0,0,0,0,0,0,0,0,0,0]
rr_05 = [0,0,0,0,0,0,0,0,0,0,0,0,0,0,0,0, 0,0,0,0,0,0,0,0,0,0,0,0,0,0,0,0, 0,0,0,0,0,0,0,0,0,0,0,0,0,0,0,0, 0,0,0,0,0,0,0,0,0,0,0,0,0.5,1.0,0,0]
rr_06 = [0,0,0,0,0,0,0,0,0,0,0,0,0,0,0,0, 0,0,0,0,0,0,0,0,0,0,0,0,0,0,0,0, 0,0,0,0,0,0,0,0,0,0,0,0,0,0,0,0, 0,0,0,0,0,0,0,0,0,0,0,0.3,0,0,0,0]
rr_07 = [0,0,0,0,0,0,0,0,0,0,0,0,0,0,0,0, 0,0,0,0,0,0,0,0,0,0,0,0,0,0,0,0, 0,0,0,0,0,0,0,0,0,0,0,0,0,0,0,0, 0,0,0,0,0.8,5.2,6.4,8.2,7.6,6.4,9.3,5.5,1.9,0.5,0,0]
rr_08 = [0,0,0,0,0,0,0,0,0,0,0,0,0,0,0,0, 0,0,0,0,0,0,0,0,0,0,0,0,0,0,0,0, 0,0,0,0,0,0,0,0,0,0,0,0,0,0,0,0.8, 1.5,0.5,0,0,0,0,0,0,0,0,0,0,0,0,0,0]
rr_09 = [0,0,0,0,0,0,0,0,0,0,0,0,0,0,0,0, 0,0,0,0,0,0,0,0,0,0,0,0,0,0,0,0, 0,0,0,0,0,0,0,0,0,0,0,0,0,0,0,0, 0,0,0,0.6,1.9,6.7,1.5,0.5,0,0,0,0,0,0,0,0]
rr_10 = [0,0,0,0,0,0,0,0,0,0,0,0,0,0,0,0, 0,0,0,0,0,0,0,0,0,0,0,0,0,0,0,0, 0,0,0,0,0,0,0,0,0,0,0,0,0,0,0,0, 0,0,0,0,0,0,2.0,5.7,6.9,2.2,0.6,0,0,0,0,0]
rr_11 = [0,0,0,0,0,0,0.3,0,0,0,0,0,0,0,0,0, 0,0,0,0,0,0,0,0,0,0,0,0,0,0,0,0, 0,0,0,0,0,0,0,0,0,0,0,0,0,0,0.5,0, 0,0,0,0,0,0,0,0,0,0,0,0,0,0,0,0]
rr_12 = [0,0,0,0,0,0,0,0,0,0,0,0,0,0,0,0, 0,0,0,0,0,0,0,0,0,0,0,0.3,0.4,0,0,0, 0,0,0,0,0,0,0,0,0,0,0,0,0,0,0,0, 0,0,0.8,3.0,3.0,1.0,0.4,0,0,0,0,0,0,0,0,0]
rr_13 = [0,0,0,0,0,0,0,0,0,0,0,0,0,0,0,0, 0,0,0,0,0,0,0,0,0,0,0,0,0,0,0,0, 0,0,0,0,0,0,0,0,0,0,0,0.4,2.0,0.6,0,0, 0,0,0,0,0,0,0,0,0,0,0,2.2,2.6,2.2,1.0,0]
rr_14 = [0,0,0,0,0,0,0,0,0,0,0,0,0,0,0,0, 0,0,0,0,0,0,0,0,0,0,0,0,0,0,0,0, 0,0,0,0,0,0,0,0,0,0,0,0,0,0,0,0, 0,0,0,0,0,0,0,0,0,0,0,0,0,0.5,0.6,0]
rr_15 = [0,0,0,0,0,0,0,0,0,0.3,0,0,0,0,0,0, 0,0,0,0,0.3,0,0,0,0,0,0,0,0,0,0,0, 0,0,0,0,0,0,0,0,0,0,0.5,1.6,1.7,1.2,0.9,0.3, 0,0,0,0,0,0,0,0,0,0,0,0,0,0,0,0]
rr_16 = [0,0,0,0,0,0,0,0,0,0,0,0,0,0,0,0, 0,0,0,0,0,0,0,0,0,0,0,0,0,0,0,0, 0,0,0,0,0,0,0,0,0,0,0,0,0,0,0,0, 0,0,0,0,0,0,0,0,0,0,0,0,1.0,3.8,18.2,1.0]
rr_17 = [0,0,0,0,0,0,0,0,0,0,0,0,0,0,0,0, 0,0,0,0,0,0,0,0,0,0,0,0,0,0,0,0, 0,0,0,0,0,0,0,0,0,0,0,0,0,0.5,2.2,0.8, 1.3,6.4,8.1,13.0,6.2,1.4,0.3,0,0,0,0,0,0,0,0,0]
rr_18 = [0,0,0,0,0,0,0,0,0,0,0,0,0,0,0,0, 0,0,0,0,0,0,0,0,0,0,0,0,0,0,0,0, 0,0,0,0,0,0,0,0,0,1.0,6.9,0.8,0.3,0,0,0, 0,0,0,0,0,0,0,0,0,0,0,0,0,0,0,0]
rr_19 = [0,0,0,0,0,0,0,0,0,0,0,0,0,0,0,0, 0,0,0,0,0,0,0,0,0,0,0,0,0,0,0,0, 0,0,0,0,0,0,0,0,0,0,0,0,0,0,0,0, 0,0,0,0,0,0,0,0,0,0,0,0,0,0.5,0,0]
rr_20 = [0,0,0,0,0,0,0,0,0,0,0,0,0,0,0,0, 0,0,0,0,0,0,0,0,0,0,0,0,0,0,0,0, 0,0,0,0,0,0,0,0,0,0,0,0,0.5,0.4,0,0, 0,0,0,0,0,0,0,0,0,0,0,0,0,0,0,0]
rr_21 = [0,0,0,0,0,0,0,0,0,0,0,0,0,0,0,0, 0,0,0,0,0,0,0,0,0,0,0,0,0,0,0,0, 0,0,0,0,0,0,0,0,0,0,0,0,0,0,0,0, 0,0,0,0,0,0,0,0,4.3,1.9,5.5,1.9,3.2,0.8,0,0]
rr_22 = [0,0,0,0,0,0,0,0,0,0,0,0,0,0,0,0, 0,0,0,0,0,0,0,0,0,0,0,0,0,0,0,0, 0,0,0,0,0,0,0,0,0,0,0,0,1.0,2.4,0.6,0, 0,0,0,0,0,0,0,0,0,0,0,0,0,0,0,0]
rr_23 = [0,0,0,0,0,0,0,0,0,0,0,0,0,0,0,0, 0,0,0,0,0,0,0,0,0,0,0,0,0,0,0,0, 0,0,0,0,0,0,0,0,0,0,0,0,0,0,0,0, 0,0,0,0,0,0,0,0,0,0,1.9,7.2,3.8,2.9,1.4,0]
rr_24 = [0,0,0,0,0,0,0,0,0,0,0,0,0,0,0,0, 0,0,0,0,0,0,0,0,0,0,0,0,0,0,0,0, 0,0,0,0,0,0,0,0,0,0,0,1.2,3.1,1.0,0,0, 0,0,0,0,0,0,0,0,0,0,0,0,0,0,0,0]
rr_25 = [0,0,0,0,0,0,0,0,0,0,0,0,0,0,0,0, 0,0,0,0,0,0,0,0,0,0,0,0,0,0,0,0, 0,0,0,0,0,0,0,0,0,0,0,0,0,0,0,0, 0,0,0,0,0,0,0,0,0,0,0.6,0.3,0,0,0,0]
rr_26 = [0,0,0,0,0,0,0,0,0,0,0,0,0,0,0,0, 0,0,0,0,0,0,0,0,0,0,0,0,0,0,0,0, 0,0,0,0,0,0,0,2.0,0.4,0,0,0,0,0,0.6,0, 0,0,0,0,0,0,0,0,0,0,0,0,0,2.0,2.4,0.4]
rr_27 = [0,0,0,0,0,0,0,0,0,0,0,0,0,0,0,0, 0,0,0,0,0,0,0,0,0,0,0,0,0,0,0,0, 0,0,0,0,0,0,0,0,0,0,0,0,0,0,0,0, 0,0,1.2,6.8,6.9,1.0,0,0,0,0,0,0,0,0,0,0]
rr_28 = [0,0,0,0,0,0,0,0,0,0,0,0,0,0,0,0, 0,0,0,0,0,0,0,0,0,0,0,0,0,0,0,0, 0,0,0,0,0,0,0,0,0,0,0,0,0,0,0,0, 0,0,0,0,0,0,0,0,0,0,0,0,0.8,0.8,0,0]
rr_29 = [0,0,0,0,0,0,0,0,0,0,0,0,0,0,0,0, 0,0,0,0,0,0,0,0,0,0,0,0,0,0,0,0, 0,0,0,0,0,0,0,0,0,0,1.0,6.1,0.6,0.3,0,0, 0,0,0,0,0,0,0,0,0,0,0,0,0,0,0,0]
rr_30 = [0,0,0,0,0,0,0,0,0,0,0,0,0,0,0,0, 0,0,0,0,0,0,0,0,0,0,0,0,0,0,0,0, 0,0,0,0,0,0,0,0,0,0,0,0,0,0,0,0, 0,0,0,0,0,0,0.5,0.8,0,0,0,0,0,0,0,0]

t850_members = [t850_01, t850_02, t850_03, t850_04, t850_05, t850_06, t850_07, t850_08, t850_09, t850_10,
                t850_11, t850_12, t850_13, t850_14, t850_15, t850_16, t850_17, t850_18, t850_19, t850_20,
                t850_21, t850_22, t850_23, t850_24, t850_25, t850_26, t850_27, t850_28, t850_29, t850_30]
t500_members = [t500_01, t500_02, t500_03, t500_04, t500_05, t500_06, t500_07, t500_08, t500_09, t500_10,
                t500_11, t500_12, t500_13, t500_14, t500_15, t500_16, t500_17, t500_18, t500_19, t500_20,
                t500_21, t500_22, t500_23, t500_24, t500_25, t500_26, t500_27, t500_28, t500_29, t500_30]
rr_members = [rr_01, rr_02, rr_03, rr_04, rr_05, rr_06, rr_07, rr_08, rr_09, rr_10,
              rr_11, rr_12, rr_13, rr_14, rr_15, rr_16, rr_17, rr_18, rr_19, rr_20,
              rr_21, rr_22, rr_23, rr_24, rr_25, rr_26, rr_27, rr_28, rr_29, rr_30]

member_colors = ["#E8822E", "#86C46E", "#F0C000", "#8A4FA8", "#B04A0A", "#5A8408", "#0A84FF", "#E8D8B0",
                 "#3A8CC0", "#E8A858", "#5E4A1A", "#F86A20", "#D4C07A", "#00DC5E", "#22445A", "#68727C",
                 "#E87AF2", "#8020F0", "#7A5A2A", "#300070", "#F0D800", "#2A64A0", "#8C5020", "#9A88F0",
                 "#A8F03A", "#D87AD8", "#2010A0", "#E0D0A8", "#880808", "#0030C0"]

# ---------------- PLOT ----------------
sns.set_style("white")
plt.rcParams['font.family'] = ['DejaVu Sans Mono', 'DejaVu Sans']

W, H = 740, 700
STEP = 6


def hrs(n, start=0):
    return np.arange(start, start + n) * STEP


def fx(x):
    return x / W


def fy(y):
    return 1 - y / H


fig = plt.figure(figsize=(W / 100, H / 100), dpi=100)
ax = fig.add_axes([fx(50), fy(600), 640 / W, 600 / H])
ax.set_xlim(0, 384)
ax.set_ylim(-52.71, 33.0)
ax2 = ax.twinx()
ax2.set_ylim(-52.71 + 45, 33.0 + 45)
ax2.patch.set_visible(False)

GRID = "#C0C0C0"
for v in range(-45, 31, 5):
    if v == 0:
        ax.axhline(0.0, color="#A8A8A8", lw=1.3, zorder=0.5)
        ax.axhline(0.32, color="#B8B8B8", lw=0.8, zorder=0.5)
    elif v % 10 == 0:
        ax.axhline(v, color=GRID, lw=1.5, zorder=0.5)
    else:
        ax.axhline(v, color=GRID, lw=0.75, zorder=0.5)
for d in range(len(dates)):
    ax.axvline(18 + 24 * d, color=GRID, lw=0.75, zorder=0.5)

# perturbations
for vals, c in zip(t850_members, member_colors):
    sns.lineplot(x=hrs(len(vals)), y=vals, ax=ax, color=c, lw=0.75, marker="+", markersize=3,
                 markeredgewidth=0.6, markeredgecolor=c, zorder=2)
for vals, c in zip(t500_members, member_colors):
    sns.lineplot(x=hrs(len(vals)), y=vals, ax=ax, color=c, lw=0.75, marker="+", markersize=3,
                 markeredgewidth=0.6, markeredgecolor=c, zorder=2)
for vals, c in zip(rr_members, member_colors):
    sns.lineplot(x=hrs(len(vals), 1), y=vals, ax=ax2, color=c, lw=0.75, marker="+", markersize=3,
                 markeredgewidth=0.6, markeredgecolor=c, zorder=2)

# GFS, control, mean
for series, axis, start in [(gfs850, ax, 0), (gfs500, ax, 0), (gfs_rr, ax2, 1)]:
    sns.lineplot(x=hrs(len(series), start), y=series, ax=axis, color="#000000", lw=2.8, zorder=3)
for series, axis, start in [(ctrl850, ax, 0), (ctrl500, ax, 0), (ctrl_rr, ax2, 1)]:
    sns.lineplot(x=hrs(len(series), start), y=series, ax=axis, color="#0000FF", lw=2.8, zorder=4)
for series, axis, start in [(mean850, ax, 0), (mean500, ax, 0), (mean_rr, ax2, 1)]:
    sns.lineplot(x=hrs(len(series), start), y=series, ax=axis, color="#FF0000", lw=3.4, zorder=5)

# axes styling
ax.set_xlabel("")
ax.set_ylabel("")
ax2.set_ylabel("")
ax.set_xticks([])
ax2.set_xticks([])
left_ticks = list(range(-45, 31, 5))
ax.set_yticks(left_ticks)
ax.set_yticklabels([str(v) for v in left_ticks])
right_ticks = list(range(0, 76, 5))
ax2.set_yticks(right_ticks)
ax2.set_yticklabels([str(v) for v in right_ticks])
ax.tick_params(axis="y", length=0, pad=22.3, labelsize=8)
for lab in ax.get_yticklabels():
    lab.set_horizontalalignment("left")
ax2.tick_params(axis="y", length=0, pad=13, labelsize=8)

for s in ["top", "right"]:
    ax.spines[s].set_visible(False)
for s in ["top", "left", "bottom"]:
    ax2.spines[s].set_visible(False)
ax.spines["left"].set_color("black")
ax.spines["left"].set_linewidth(0.9)
ax.spines["bottom"].set_color("black")
ax.spines["bottom"].set_linewidth(0.9)
ax2.spines["right"].set_color("black")
ax2.spines["right"].set_linewidth(1.5)

# date labels
trans = mtransforms.blended_transform_factory(ax.transData, ax.transAxes)
for d, lab in enumerate(dates):
    ax.text(18 + 24 * d + 4.2, -0.004, lab, rotation=90, ha="center", va="top",
            transform=trans, fontsize=7.5, clip_on=False)

# panel labels
fig.text(fx(60), fy(43), "Temp. 850hPa", fontsize=7.5, va="center", ha="left")
fig.text(fx(60), fy(259.5), "Temp. 500hPa", fontsize=7.5, va="center", ha="left")
fig.text(fx(59), fy(535), "Précipitations", fontsize=7.5, va="center", ha="left")

# axis unit labels
fig.text(fx(20), fy(607), "(°c)", fontsize=7.5, va="center", ha="left")
fig.text(fx(10), fy(623), "Alt. 396m", fontsize=7.5, va="center", ha="left")
fig.text(fx(710), fy(607), "(mm)", fontsize=7.5, va="center", ha="left")

# legend
fig.add_artist(Line2D([fx(35), fx(65)], [fy(637), fy(637)], color="#FF0000", lw=3.0, transform=fig.transFigure))
fig.text(fx(74), fy(637), "Moyenne des scénarios", fontsize=7.5, va="center", ha="left")
fig.add_artist(Line2D([fx(225), fx(255)], [fy(637), fy(637)], color="#0000FF", lw=3.0, transform=fig.transFigure))
fig.text(fx(264), fy(637), "Run de contrôle", fontsize=7.5, va="center", ha="left")
fig.add_artist(Line2D([fx(225), fx(255)], [fy(647), fy(647)], color="#000000", lw=3.0, transform=fig.transFigure))
fig.text(fx(264), fy(647), "Run GFS", fontsize=7.5, va="center", ha="left")
fig.text(fx(61), fy(658), "\u2744", fontsize=9, va="center", ha="center", color="#5AAEE0",
         family=["DejaVu Sans"])
fig.text(fx(74), fy(659), "Risque neige", fontsize=7.5, va="center", ha="left")
fig.text(fx(340), fy(653), "30 Perts.", fontsize=7.5, va="center", ha="left")
for k, c in enumerate(member_colors):
    x0 = 400 + 11 * k
    fig.add_artist(Rectangle((fx(x0), fy(657)), 10 / W, 7 / H, color=c, transform=fig.transFigure, lw=0))
    fig.text(fx(x0 + 5), fy(643), f"{k + 1:02d}", fontsize=5.3, va="center", ha="center", weight="bold")

# title box
fig.add_artist(Rectangle((fx(20), fy(699)), 420 / W, 32 / H, fill=False, ec="black", lw=1.3,
                         transform=fig.transFigure))
fig.text(fx(30), fy(677), "Diagramme des ensembles GEFS sur 384h : 39.5N 16E", fontsize=8.2,
         weight="bold", va="center", ha="left")
fig.text(fx(30), fy(692), "Températures 850hPa et 500hPa (°C) , précipitations (mm)", fontsize=7.2,
         va="center", ha="left")
fig.text(fx(450), fy(676), "Ensemble GEFS du 23/08/2026 - 06Z", fontsize=7.2, va="center", ha="left")
fig.text(fx(450), fy(692), "Copyright 2026 Meteociel.fr", fontsize=8.2, weight="bold", va="center", ha="left")

fig.savefig("out.png", dpi=100, facecolor="white")
